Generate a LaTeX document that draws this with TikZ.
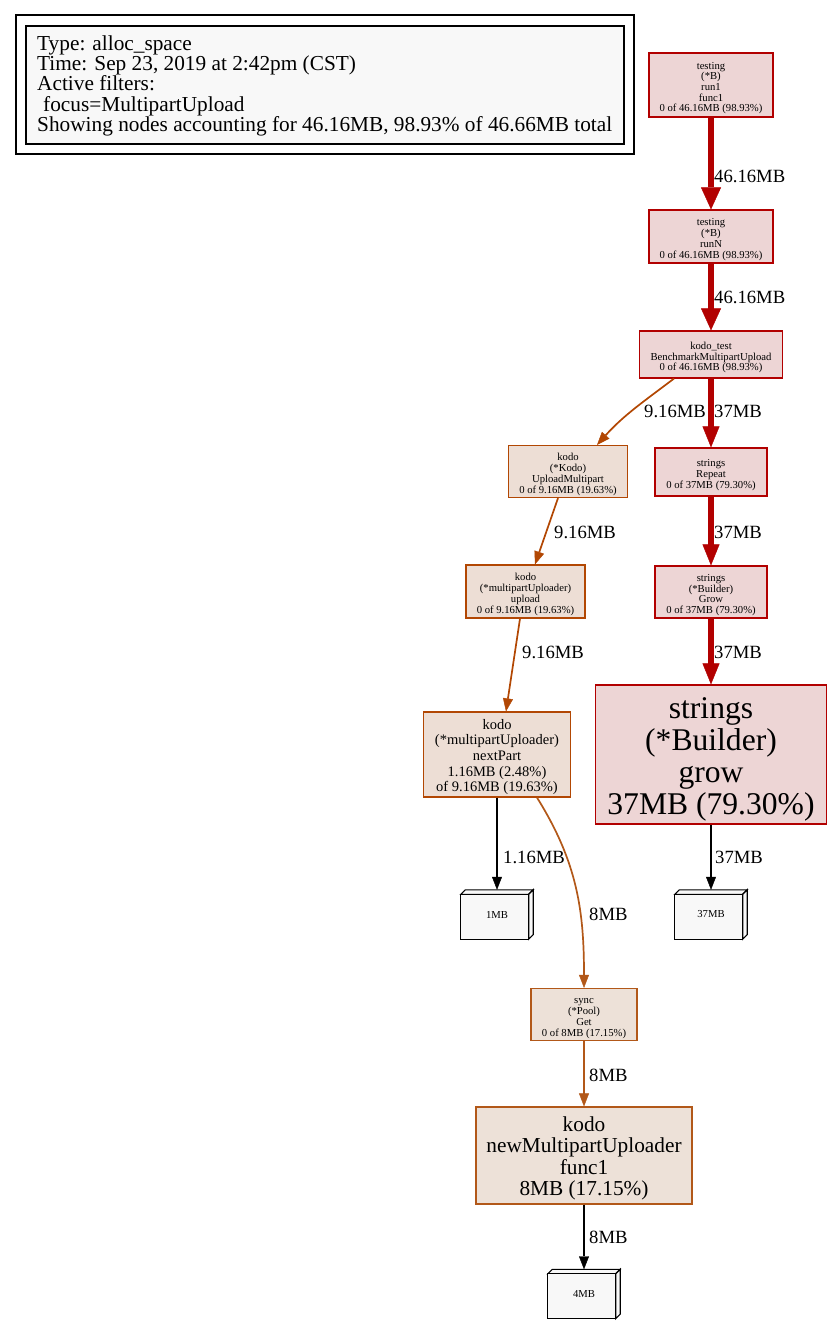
\documentclass[tikz,border=0pt]{standalone}
\usepackage{fontspec}
\setmainfont{Liberation Serif}
\usetikzlibrary{arrows.meta,calc,backgrounds}

\definecolor{hotfill}{HTML}{EDD5D5}
\definecolor{hotline}{HTML}{B20000}
\definecolor{warmfill}{HTML}{EDDED5}
\definecolor{warmline}{HTML}{B24703}
\definecolor{poolfill}{HTML}{EDE1D8}
\definecolor{poolline}{HTML}{B25819}
\definecolor{paper}{HTML}{F8F8F8}

\tikzset{
  fn/.style={rectangle, draw, line width=1.2pt, inner sep=0pt, align=center, text=black},
  hot/.style={fn, fill=hotfill, draw=hotline},
  warm/.style={fn, fill=warmfill, draw=warmline},
  pool/.style={fn, fill=poolfill, draw=poolline},
  % text height is the room above the last baseline; a little extra lowers the block
  tinytext/.style={font=\fontsize{10.67}{10.7}\selectfont, text height=#1},
  midtext/.style={font=\fontsize{14.5}{15.6}\selectfont, text height=77.4pt},
  largetext/.style={font=\fontsize{21.3}{21.4}\selectfont, text height=84.9pt},
  hugetext/.style={font=\fontsize{31.6}{31.8}\selectfont, text height=126.2pt},
  cube/.style={rectangle, inner sep=0pt, minimum width=72pt, minimum height=49pt,
    font=\fontsize{10.67}{10.7}\selectfont},
  cubeedge/.style={draw=black, line width=1.1pt, fill=paper, line join=miter},
  elabel/.style={font=\fontsize{18.67}{20}\selectfont, inner sep=0pt, anchor=west},
  heavy/.style={draw=hotline, line width=6.6pt, -{Triangle[width=20pt,length=22pt,line width=0.4pt]}},
  heavier/.style={draw=hotline, line width=5.6pt, -{Triangle[width=17pt,length=21pt,line width=0.4pt]}},
  warmflow/.style={draw=warmline, line width=1.7pt, -{Triangle[width=10pt,length=13pt,line width=0.4pt]}},
  poolflow/.style={draw=poolline, line width=1.7pt, -{Triangle[width=10pt,length=13pt,line width=0.4pt]}},
  leafflow/.style={draw=black, line width=1.4pt, -{Triangle[width=10pt,length=13pt,line width=0.4pt]}},
}

% three-dimensional box drawn behind the node named #1
\newcommand\cubefaces[1]{%
  \begin{pgfonlayer}{background}
    \draw[cubeedge] ($(#1.north west)+(0,4.5)$) -- ($(#1.north west)+(4.5,0)$)
      -- (#1.north east) -- ($(#1.north east)+(-4.5,4.5)$) -- cycle;
    \draw[cubeedge] ($(#1.north east)+(-4.5,4.5)$) -- (#1.north east)
      -- ($(#1.south east)+(0,-4.5)$) -- ($(#1.south east)+(-4.5,0)$) -- cycle;
    \draw[cubeedge] ($(#1.north west)+(0,4.5)$) rectangle ($(#1.south east)+(-4.5,0)$);
  \end{pgfonlayer}}

\begin{document}
\begin{tikzpicture}[x=1pt, y=-1pt]
  \useasboundingbox (0,0) rectangle (832,1324);

  % legend
  \node (frame) [rectangle, draw=black, line width=1.3pt, minimum width=618pt, minimum height=139pt, inner sep=0pt] at (325,84.5) {};
  \node (legend) [rectangle, draw=black, fill=paper, line width=1.3pt, minimum width=598pt, minimum height=118pt, inner sep=0pt] at (325,85) {};
  \node (legendtext) [anchor=north west, inner sep=0pt, align=left, font=\fontsize{21.3}{20.2}\selectfont] at (37,35.5)
    {Type: alloc\_space\\
     Time: Sep 23, 2019 at 2:42pm (CST)\\
     Active filters:\\
     \hspace*{6pt}focus=MultipartUpload\\
     Showing nodes accounting for 46.16MB, 98.93\% of 46.66MB total};

  % call graph nodes
  \node (run1) [hot, tinytext=56.1pt, minimum width=124pt, minimum height=64pt] at (711,85)
    {testing\\(*B)\\run1\\func1\\0 of 46.16MB (98.93\%)};
  \node (runN) [hot, tinytext=45.4pt, minimum width=124pt, minimum height=53pt] at (711,236.5)
    {testing\\(*B)\\runN\\0 of 46.16MB (98.93\%)};
  \node (bench) [hot, tinytext=34.7pt, minimum width=143pt, minimum height=47pt] at (711,354.5)
    {kodo\_test\\BenchmarkMultipartUpload\\0 of 46.16MB (98.93\%)};
  \node (upmp) [warm, tinytext=45.4pt, minimum width=119pt, minimum height=52pt] at (568,471.5)
    {kodo\\(*Kodo)\\UploadMultipart\\0 of 9.16MB (19.63\%)};
  \node (repeat) [hot, tinytext=34.7pt, minimum width=112pt, minimum height=48pt] at (711,472)
    {strings\\Repeat\\0 of 37MB (79.30\%)};
  \node (upload) [warm, tinytext=45.4pt, minimum width=119pt, minimum height=53pt] at (525.5,591.5)
    {kodo\\(*multipartUploader)\\upload\\0 of 9.16MB (19.63\%)};
  \node (bgrow) [hot, tinytext=45.4pt, minimum width=112pt, minimum height=52pt] at (711,592)
    {strings\\(*Builder)\\Grow\\0 of 37MB (79.30\%)};
  \node (next) [warm, midtext, minimum width=147pt, minimum height=85pt] at (497,754.5)
    {kodo\\(*multipartUploader)\\nextPart\\1.16MB (2.48\%)\\of 9.16MB (19.63\%)};
  \node (growflat) [hot, hugetext, minimum width=231pt, minimum height=139pt] at (711,754.5)
    {strings\\(*Builder)\\grow\\37MB (79.30\%)};
  \node (sync) [pool, tinytext=45.4pt, minimum width=106pt, minimum height=52pt] at (584,1014.5)
    {sync\\(*Pool)\\Get\\0 of 8MB (17.15\%)};
  \node (func) [pool, largetext, minimum width=216pt, minimum height=97pt] at (584,1155.5)
    {kodo\\newMultipartUploader\\func1\\8MB (17.15\%)};

  % allocation size boxes
  \node (m1) [cube] at (497,914.5) {1MB};
  \node (m37) [cube] at (711,914.5) {37MB};
  \node (m4) [cube] at (584,1294) {4MB};
  \cubefaces{m1}
  \cubefaces{m37}
  \cubefaces{m4}

  % edges
  \draw[heavy] (run1) -- (runN);
  \draw[heavy] (runN) -- (bench);
  \draw[heavier] (bench) -- (repeat);
  \draw[heavier] (repeat) -- (bgrow);
  \draw[heavier] (bgrow) -- (growflat);
  \draw[leafflow] (growflat) -- (m37);
  \draw[warmflow] ($(bench.south)+(-37,0)$) to[out=-143, in=48] ($(upmp.north)+(29,0)$);
  \draw[warmflow] ($(upmp.south)+(-10,0)$) -- ($(upload.north)+(9.5,0)$);
  \draw[warmflow] ($(upload.south)+(-5.5,0)$) -- ($(next.north)+(9,0)$);
  \draw[leafflow] (next) -- (m1);
  \draw[poolflow] ($(next.south)+(40,0)$) to[out=-58, in=90] (sync.north);
  \draw[poolflow] (sync) -- (func);
  \draw[leafflow] (func) -- (m4);

  % edge labels
  \node (l1) [elabel] at (714,176) {46.16MB};
  \node (l2) [elabel] at (714,297) {46.16MB};
  \node (l3) [elabel] at (644,411) {9.16MB};
  \node (l4) [elabel] at (714,411) {37MB};
  \node (l5) [elabel] at (714,532) {37MB};
  \node (l6) [elabel] at (554,532) {9.16MB};
  \node (l7) [elabel] at (522,652) {9.16MB};
  \node (l8) [elabel] at (714,652) {37MB};
  \node (l9) [elabel] at (503,857) {1.16MB};
  \node (l10) [elabel] at (715,857) {37MB};
  \node (l11) [elabel] at (589,914) {8MB};
  \node (l12) [elabel] at (589,1075) {8MB};
  \node (l13) [elabel] at (589,1237) {8MB};
\end{tikzpicture}
\end{document}
